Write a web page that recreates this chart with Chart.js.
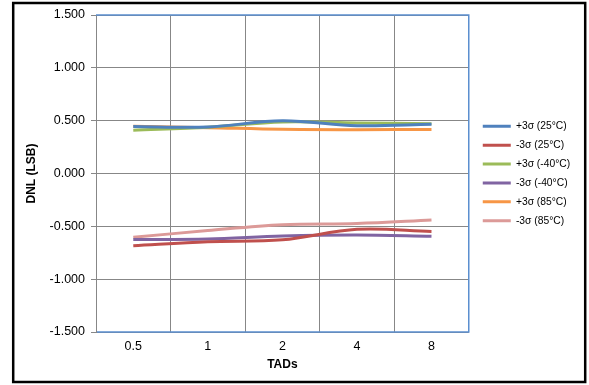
<!DOCTYPE html>
<html>
<head>
<meta charset="utf-8">
<script src="https://cdn.jsdelivr.net/npm/chart.js@4"></script>
<style>
html,body{margin:0;padding:0;background:#fff;}
#wrap{position:absolute;left:0;top:0;width:589px;height:385px;}
</style>
</head>
<body>
<div id="wrap"><canvas id="c" width="589" height="385"></canvas></div>
<script>
const categories = ['0.5', '1', '2', '4', '8'];
const seriesNames = ['+3σ (25°C)', '-3σ (25°C)', '+3σ (-40°C)', '-3σ (-40°C)', '+3σ (85°C)', '-3σ (85°C)'];
const plus25 = [0.445, 0.440, 0.500, 0.452, 0.466];
const minus25 = [-0.684, -0.646, -0.628, -0.528, -0.548];
const plusM40 = [0.409, 0.438, 0.488, 0.478, 0.472];
const minusM40 = [-0.625, -0.620, -0.592, -0.582, -0.595];
const plus85 = [0.448, 0.434, 0.418, 0.415, 0.416];
const minus85 = [-0.604, -0.540, -0.485, -0.473, -0.440];
const yTicks = [-1.5, -1.0, -0.5, 0, 0.5, 1.0, 1.5];
const colors = ['#4f81bd', '#c0504d', '#9bbb59', '#8064a2', '#f79646', '#dc9a98'];

const seriesValues = [plus25, minus25, plusM40, minusM40, plus85, minus85];
const datasets = seriesValues.map((vals, i) => ({
  label: seriesNames[i],
  data: vals,
  borderColor: colors[i],
  backgroundColor: colors[i],
  borderWidth: 3,
  pointRadius: 0,
  pointHoverRadius: 0,
  tension: 0.35,
  fill: false
}));

const frame = {
  id: 'frame',
  afterLayout(chart) {
    const lg = chart.legend;
    if (lg) { lg.width = 112; lg.right = lg.left + 112; }
  },
  beforeDatasetsDraw(chart) {
    const {ctx, chartArea: a} = chart;
    ctx.save();
    ctx.strokeStyle = '#5b8fd0';
    ctx.lineWidth = 1.5;
    ctx.beginPath();
    ctx.moveTo(a.left, a.top);
    ctx.lineTo(a.right, a.top);
    ctx.lineTo(a.right, a.bottom);
    ctx.lineTo(a.left + 1, a.bottom);
    ctx.stroke();
    ctx.restore();
  },
  afterDraw(chart) {
    const {ctx} = chart;
    ctx.save();
    ctx.strokeStyle = '#000';
    ctx.lineWidth = 2.5;
    ctx.strokeRect(13.2, 3, 572, 379);
    ctx.restore();
  }
};

new Chart(document.getElementById('c'), {
  type: 'line',
  data: { labels: categories, datasets },
  plugins: [frame],
  options: {
    responsive: false,
    animation: false,
    events: [],
    layout: { padding: { left: 15, top: 15, right: 23, bottom: 12 } },
    plugins: {
      tooltip: { enabled: false },
      legend: {
        position: 'right',
        fullSize: false,
        align: 'center',
        labels: {
          usePointStyle: true,
          pointStyle: 'line',
          pointStyleWidth: 28,
          padding: 8.6,
          color: '#000',
          font: { family: 'Liberation Sans, Arial, sans-serif', size: 10.3 }
        }
      }
    },
    scales: {
      x: {
        offset: true,
        afterFit(scale) { scale.height = 41; },
        grid: { offset: true, color: '#878787', lineWidth: 1, drawTicks: false },
        border: { display: false },
        ticks: { padding: 7, color: '#000', font: { family: 'Liberation Sans, Arial, sans-serif', size: 12.5 } },
        title: { display: true, text: 'TADs', color: '#000', padding: { top: 0, bottom: 1 },
          font: { family: 'Liberation Sans, Arial, sans-serif', size: 12, weight: 'bold' } }
      },
      y: {
        min: -1.5, max: 1.5,
        afterBuildTicks(scale) { scale.ticks = yTicks.map(v => ({ value: v })); },
        afterFit(scale) { scale.width = 81; },
        grid: { color: '#878787', lineWidth: 1, tickLength: 5 },
        border: { color: '#878787', width: 1 },
        ticks: { padding: 6, color: '#000', callback: v => Number(v).toFixed(3),
          font: { family: 'Liberation Sans, Arial, sans-serif', size: 12.5 } },
        title: { display: true, text: 'DNL (LSB)', color: '#000', padding: { top: 9, bottom: 0 },
          font: { family: 'Liberation Sans, Arial, sans-serif', size: 12, weight: 'bold' } }
      },
      y2: {
        position: 'right',
        min: -1.5, max: 1.5,
        afterFit(scale) { scale.width = 5.4; },
        grid: { display: false, drawOnChartArea: false, drawTicks: false },
        border: { display: false },
        ticks: { display: false }
      }
    }
  }
});
</script>
</body>
</html>
